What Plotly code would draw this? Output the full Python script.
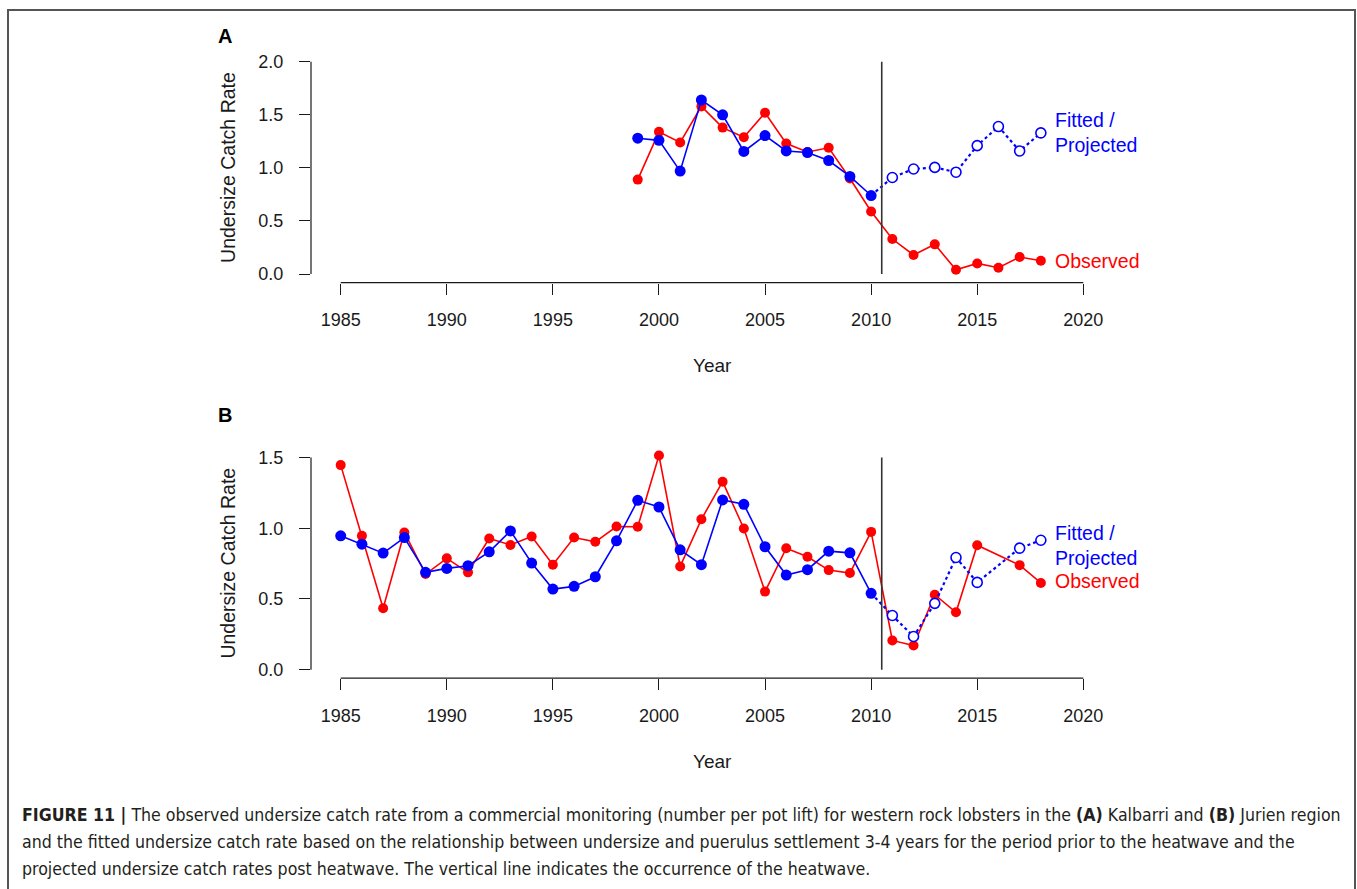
import plotly.graph_objects as go

W, H = 1357, 889

# ---- Panel A: Kalbarri ----
A_OBS_YEARS = list(range(1999, 2019))
A_OBS = [0.89, 1.34, 1.24, 1.58, 1.38, 1.29, 1.52, 1.23, 1.15, 1.19,
         0.90, 0.59, 0.33, 0.18, 0.28, 0.04, 0.10, 0.06, 0.16, 0.125]
A_FIT_YEARS = list(range(1999, 2011))
A_FIT = [1.28, 1.26, 0.97, 1.64, 1.50, 1.155, 1.305, 1.16, 1.145, 1.07, 0.92, 0.74]
A_PROJ_YEARS = list(range(2011, 2019))
A_PROJ = [0.91, 0.99, 1.005, 0.96, 1.21, 1.39, 1.16, 1.33]

# ---- Panel B: Jurien ----
B_OBS_YEARS = list(range(1985, 2016)) + [2017, 2018]
B_OBS = [1.446, 0.946, 0.434, 0.97, 0.676, 0.787, 0.688, 0.927, 0.882, 0.941,
         0.742, 0.934, 0.904, 1.012, 1.01, 1.514, 0.73, 1.063, 1.329, 0.998,
         0.552, 0.859, 0.798, 0.704, 0.683, 0.974, 0.207, 0.171, 0.530, 0.406,
         0.880, 0.739, 0.613]
B_FIT_YEARS = list(range(1985, 2011))
B_FIT = [0.946, 0.887, 0.824, 0.934, 0.688, 0.716, 0.735, 0.833, 0.981, 0.754,
         0.570, 0.589, 0.657, 0.911, 1.197, 1.15, 0.847, 0.742, 1.20, 1.169,
         0.869, 0.669, 0.707, 0.838, 0.826, 0.540]
B_PROJ_YEARS = [2011, 2012, 2013, 2014, 2015, 2017, 2018]
B_PROJ = [0.383, 0.235, 0.469, 0.793, 0.617, 0.859, 0.915]

X_TICKS = [1985, 1990, 1995, 2000, 2005, 2010, 2015, 2020]
A_Y_TICKS = [0.0, 0.5, 1.0, 1.5, 2.0]
B_Y_TICKS = [0.0, 0.5, 1.0, 1.5]
HEATWAVE_YEAR = 2010.5

Y_TITLE = "Undersize Catch Rate"
X_TITLE = "Year"
FIT_LABEL = "Fitted /<br>Projected"
OBS_LABEL = "Observed"
CAPTION_LINES = [
    "<b>FIGURE 11 |</b> The observed undersize catch rate from a commercial monitoring "
    "(number per pot lift) for western rock lobsters in the <b>(A)</b> Kalbarri and "
    "<b>(B)</b> Jurien region",
    "and the fitted undersize catch rate based on the relationship between undersize and "
    "puerulus settlement 3-4 years for the period prior to the heatwave and the",
    "projected undersize catch rates post heatwave. The vertical line indicates the "
    "occurrence of the heatwave.",
]

RED = "#ff0000"
BLUE = "#0000ff"
INK = "#1a1a1a"
FONT = "Liberation Sans, Arial, sans-serif"
CAPTION_FONT = "Liberation Sans Narrow, Arial Narrow, DejaVu Sans Condensed, Liberation Sans, sans-serif"


def px_x(p):
    return p / W


def px_y(p):
    return 1 - p / H


fig = go.Figure()

panels = [
    dict(suffix="", obs_x=A_OBS_YEARS, obs=A_OBS, fit_x=A_FIT_YEARS, fit=A_FIT,
         proj_x=A_PROJ_YEARS, proj=A_PROJ, yticks=A_Y_TICKS,
         ydom=(282.5, 52.5), yrange=(-0.08, 2.08), letter="A", letter_y=35,
         xtitle_y=366, fit_shift=0, obs_shift=0),
    dict(suffix="2", obs_x=B_OBS_YEARS, obs=B_OBS, fit_x=B_FIT_YEARS, fit=B_FIT,
         proj_x=B_PROJ_YEARS, proj=B_PROJ, yticks=B_Y_TICKS,
         ydom=(679.5, 449.5), yrange=(-0.06, 1.56), letter="B", letter_y=415,
         xtitle_y=763, fit_shift=-5, obs_shift=2),
]

shapes = []
annotations = []
X_DOMAIN = [px_x(311), px_x(1113)]
X_RANGE = [1983.6, 2021.4]

for p in panels:
    xa = "x" + p["suffix"]
    ya = "y" + p["suffix"]
    # observed series
    fig.add_trace(go.Scatter(
        x=p["obs_x"], y=p["obs"], mode="lines+markers", xaxis=xa, yaxis=ya,
        line=dict(color=RED, width=1.6), marker=dict(color=RED, size=10),
        showlegend=False, hoverinfo="x+y"))
    # fitted series up to the heatwave
    fig.add_trace(go.Scatter(
        x=p["fit_x"], y=p["fit"], mode="lines+markers", xaxis=xa, yaxis=ya,
        line=dict(color=BLUE, width=1.6), marker=dict(color=BLUE, size=11),
        showlegend=False, hoverinfo="x+y"))
    # projected series after the heatwave (dotted, open circles)
    fig.add_trace(go.Scatter(
        x=[p["fit_x"][-1]] + p["proj_x"], y=[p["fit"][-1]] + p["proj"],
        mode="lines", xaxis=xa, yaxis=ya,
        line=dict(color=BLUE, width=2.2, dash="dot"),
        showlegend=False, hoverinfo="skip"))
    fig.add_trace(go.Scatter(
        x=p["proj_x"], y=p["proj"], mode="markers", xaxis=xa, yaxis=ya,
        marker=dict(color="white", size=10, symbol="circle",
                    line=dict(color=BLUE, width=1.6)),
        showlegend=False, hoverinfo="x+y"))

    ax_font = dict(family=FONT, size=18, color=INK)
    fig.layout["xaxis" + p["suffix"]] = dict(
        domain=X_DOMAIN, range=X_RANGE, anchor=ya, tickvals=X_TICKS,
        ticks="outside", ticklen=11, tickwidth=1.2, tickcolor=INK,
        showline=False, showgrid=False, zeroline=False, tickfont=ax_font,
        ticklabelstandoff=10)
    fig.layout["yaxis" + p["suffix"]] = dict(
        domain=[px_y(p["ydom"][0]), px_y(p["ydom"][1])], range=list(p["yrange"]),
        anchor=xa, tickvals=p["yticks"], tickformat=".1f",
        ticks="outside", ticklen=11, tickwidth=1.2, tickcolor=INK,
        showline=False, showgrid=False, zeroline=False, tickfont=ax_font,
        ticklabelstandoff=12)

    # R-style axis lines spanning first to last tick
    shapes.append(dict(type="line", xref=xa, yref=ya + " domain",
                       x0=X_TICKS[0], x1=X_TICKS[-1], y0=0, y1=0,
                       line=dict(color=INK, width=1.2)))
    shapes.append(dict(type="line", xref=xa + " domain", yref=ya,
                       x0=0, x1=0, y0=p["yticks"][0], y1=p["yticks"][-1],
                       line=dict(color=INK, width=1.2)))
    # heatwave marker
    shapes.append(dict(type="line", xref=xa, yref=ya,
                       x0=HEATWAVE_YEAR, x1=HEATWAVE_YEAR,
                       y0=p["yticks"][0], y1=p["yticks"][-1],
                       line=dict(color="#333333", width=1.6)))

    # series labels at the end of each line
    annotations.append(dict(
        xref=xa, yref=ya, x=p["proj_x"][-1], y=p["proj"][-1], text=FIT_LABEL,
        showarrow=False, xanchor="left", yanchor="middle", align="left",
        xshift=12, yshift=p["fit_shift"],
        font=dict(family=FONT, size=19.5, color=BLUE)))
    annotations.append(dict(
        xref=xa, yref=ya, x=p["obs_x"][-1], y=p["obs"][-1], text=OBS_LABEL,
        showarrow=False, xanchor="left", yanchor="middle", align="left",
        xshift=12, yshift=p["obs_shift"],
        font=dict(family=FONT, size=19.5, color=RED)))

    # axis titles
    ymid = (p["yticks"][0] + p["yticks"][-1]) / 2
    annotations.append(dict(
        xref="paper", yref=ya, x=px_x(228), y=ymid, text=Y_TITLE, textangle=-90,
        showarrow=False, xanchor="center", yanchor="middle",
        font=dict(family=FONT, size=19.5, color=INK)))
    annotations.append(dict(
        xref="paper", yref="paper", x=sum(X_DOMAIN) / 2, y=px_y(p["xtitle_y"]),
        text=X_TITLE, showarrow=False, xanchor="center", yanchor="middle",
        font=dict(family=FONT, size=19, color=INK)))
    # panel letter
    annotations.append(dict(
        xref="paper", yref="paper", x=px_x(216), y=px_y(p["letter_y"]),
        text="<b>%s</b>" % p["letter"], showarrow=False, xanchor="left",
        yanchor="middle", font=dict(family=FONT, size=20, color="black")))

# caption below the panels
for i, line in enumerate(CAPTION_LINES):
    annotations.append(dict(
        xref="paper", yref="paper", x=px_x(20), y=px_y([817, 844, 871][i]),
        text=line, showarrow=False, xanchor="left", yanchor="middle",
        font=dict(family=CAPTION_FONT, size=17.6, color="#231f20")))

# page frame
shapes.append(dict(type="rect", xref="paper", yref="paper",
                   x0=px_x(8), x1=px_x(1355), y0=-0.05, y1=px_y(9),
                   line=dict(color="#555555", width=2)))

fig.update_layout(
    width=W, height=H, margin=dict(l=0, r=0, t=0, b=0),
    paper_bgcolor="white", plot_bgcolor="white",
    shapes=shapes, annotations=annotations, showlegend=False,
)

fig.write_html("out.html")
